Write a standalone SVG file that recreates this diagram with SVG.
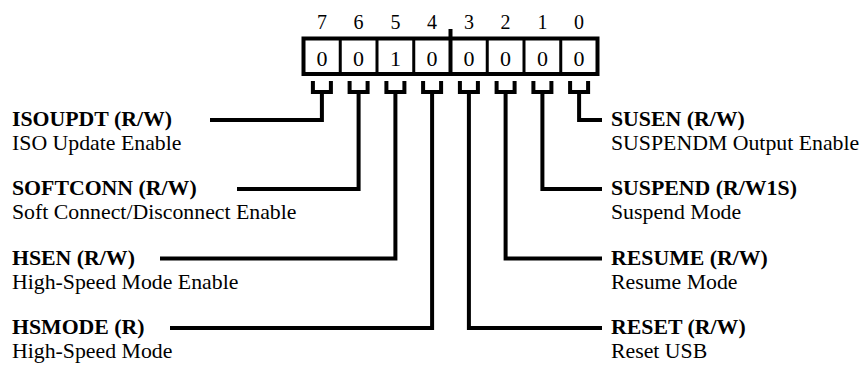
<svg xmlns="http://www.w3.org/2000/svg" width="861" height="366" viewBox="0 0 861 366">
<style>
text{font-family:"Liberation Serif","Times New Roman",serif;fill:#000}
.b{font-weight:bold;font-size:21.8px}
.r{font-size:21.8px}
.n{font-size:20px;text-anchor:middle}
.v{font-size:22px;text-anchor:middle}
.w{fill:none;stroke:#000;stroke-width:4;stroke-linejoin:miter;stroke-linecap:butt}
.d{fill:none;stroke:#000;stroke-width:3}
</style>
<rect width="861" height="366" fill="#fff"/>
<g id="register">
<g id="bitnums">
<text class="n" x="321.9" y="29">7</text>
<text class="n" x="358.6" y="29">6</text>
<text class="n" x="395.4" y="29">5</text>
<text class="n" x="432.1" y="29">4</text>
<text class="n" x="468.9" y="29">3</text>
<text class="n" x="505.6" y="29">2</text>
<text class="n" x="542.4" y="29">1</text>
<text class="n" x="579.1" y="29">0</text>
</g>
<rect class="w" x="303.5" y="38.5" width="294" height="35.5"/>
<path class="d" d="M340.25 38.5V74M377 38.5V74M413.75 38.5V74M487.25 38.5V74M524 38.5V74M560.75 38.5V74"/>
<path class="w" d="M450.5 29V74"/>
<g id="values">
<text class="v" x="321.9" y="66">0</text>
<text class="v" x="358.6" y="66">0</text>
<text class="v" x="395.4" y="66">1</text>
<text class="v" x="432.1" y="66">0</text>
<text class="v" x="468.9" y="66">0</text>
<text class="v" x="505.6" y="66">0</text>
<text class="v" x="542.4" y="66">0</text>
<text class="v" x="579.1" y="66">0</text>
</g>
<path class="w" d="M312.9 81V92H330.9V81M349.6 81V92H367.6V81M386.4 81V92H404.4V81M423.1 81V92H441.1V81M459.9 81V92H477.9V81M496.6 81V92H514.6V81M533.4 81V92H551.4V81M570.1 81V92H588.1V81"/>
</g>
<g id="connectors">
<path class="w" d="M321.9 92V120H210"/>
<path class="w" d="M358.6 92V189H237"/>
<path class="w" d="M395.4 92V258.5H160"/>
<path class="w" d="M432.1 92V328H170"/>
<path class="w" d="M579.1 92V120H602"/>
<path class="w" d="M542.4 92V189H602"/>
<path class="w" d="M505.6 92V258.5H602"/>
<path class="w" d="M468.9 92V328H602"/>
</g>
<g id="isoupdt"><text class="b" x="12" y="126">ISOUPDT (R/W)</text><text class="r" x="12" y="150">ISO Update Enable</text></g>
<g id="softconn"><text class="b" x="12" y="195">SOFTCONN (R/W)</text><text class="r" x="12" y="219">Soft Connect/Disconnect Enable</text></g>
<g id="hsen"><text class="b" x="12" y="265">HSEN (R/W)</text><text class="r" x="12" y="289">High-Speed Mode Enable</text></g>
<g id="hsmode"><text class="b" x="12" y="334">HSMODE (R)</text><text class="r" x="12" y="358">High-Speed Mode</text></g>
<g id="susen"><text class="b" x="611" y="126">SUSEN (R/W)</text><text class="r" x="611" y="150">SUSPENDM Output Enable</text></g>
<g id="suspend"><text class="b" x="611" y="195">SUSPEND (R/W1S)</text><text class="r" x="611" y="219">Suspend Mode</text></g>
<g id="resume"><text class="b" x="611" y="265">RESUME (R/W)</text><text class="r" x="611" y="289">Resume Mode</text></g>
<g id="reset"><text class="b" x="611" y="334">RESET (R/W)</text><text class="r" x="611" y="358">Reset USB</text></g>
</svg>
